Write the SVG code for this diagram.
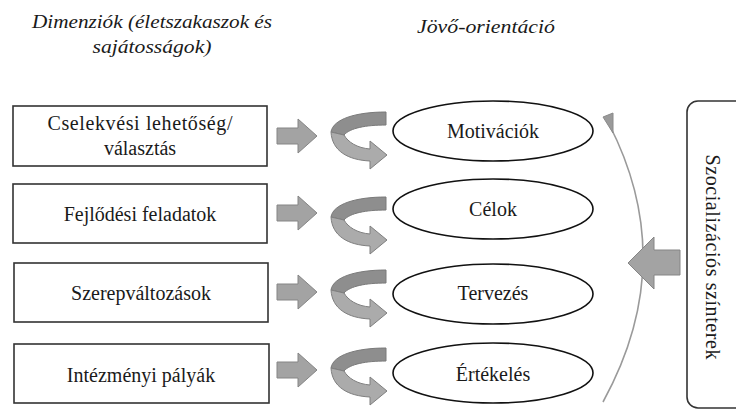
<svg xmlns="http://www.w3.org/2000/svg" width="736" height="410" viewBox="0 0 736 410">
<style>
.box{fill:#fff;stroke:#333;stroke-width:1.6}
.ell{fill:#fff;stroke:#111;stroke-width:1.6}
.t{font-family:"Liberation Serif","Times New Roman",serif;font-size:20px;fill:#1a1a1a;text-anchor:middle}
.h{font-family:"Liberation Serif","Times New Roman",serif;font-size:19px;font-style:italic;fill:#1a1a1a;text-anchor:middle}
.blk{fill:#a3a3a3;stroke:#858585;stroke-width:1}
.back{fill:#8e8e8e;stroke:#7a7a7a;stroke-width:1}
.front{fill:#ababab;stroke:#7f7f7f;stroke-width:1}
</style>
<defs>
<path id="blockArrow" d="M277,128 L298,128 L298,119 L317,136 L298,153 L298,144 L277,144 Z"/>
<g id="curvedArrow">
<path class="back" d="M386,112 L386,125 C366,125 350,128 344,135 L331,132 C333,119 356,112 386,112 Z"/>
<path class="front" d="M331,132 L344,135 C348,142 357,148 370,149 L370,141 L387,155 L370,169 L370,161 C348,160 332,151 331,132 Z"/>
</g>
</defs>
<g id="headers">
<text class="h" x="152" y="28" textLength="240" lengthAdjust="spacingAndGlyphs">Dimenziók (életszakaszok és</text>
<text class="h" x="152" y="53" textLength="119" lengthAdjust="spacingAndGlyphs">sajátosságok)</text>
<text class="h" x="486" y="33" textLength="138" lengthAdjust="spacingAndGlyphs">Jövő-orientáció</text>
</g>
<g id="connectors">
<use href="#blockArrow" class="blk"/>
<use href="#blockArrow" class="blk" transform="translate(0,77)"/>
<use href="#blockArrow" class="blk" transform="translate(0,156)"/>
<use href="#blockArrow" class="blk" transform="translate(0,234)"/>
<use href="#curvedArrow"/>
<use href="#curvedArrow" transform="translate(0,85)"/>
<use href="#curvedArrow" transform="translate(0,158)"/>
<use href="#curvedArrow" transform="translate(0,236)"/>
<path d="M603,402 Q680,262 609,124" fill="none" stroke="#9a9a9a" stroke-width="1.6"/>
<polygon points="603,117 613,113 613,133" fill="#9a9a9a" stroke="#8a8a8a" stroke-width="1"/>
<path class="blk" d="M680,250 L654,250 L654,237 L628,263 L654,289 L654,275 L680,275 Z"/>
</g>
<g id="box-cselekvesi">
<rect class="box" x="13" y="106" width="254" height="60"/>
<text class="t" x="140" y="130" textLength="185" lengthAdjust="spacing">Cselekvési lehetőség/</text>
<text class="t" x="140" y="155">választás</text>
</g>
<g id="box-fejlodesi">
<rect class="box" x="13" y="184" width="254" height="59"/>
<text class="t" x="140" y="221">Fejlődési feladatok</text>
</g>
<g id="box-szerep">
<rect class="box" x="14" y="263" width="254" height="59"/>
<text class="t" x="141" y="300">Szerepváltozások</text>
</g>
<g id="box-intezmenyi">
<rect class="box" x="14" y="344" width="255" height="59"/>
<text class="t" x="141" y="382">Intézményi pályák</text>
</g>
<g id="ell-motivaciok">
<ellipse class="ell" cx="493" cy="131" rx="100" ry="30"/>
<text class="t" x="493" y="138">Motivációk</text>
</g>
<g id="ell-celok">
<ellipse class="ell" cx="493" cy="209" rx="100" ry="30"/>
<text class="t" x="493" y="216">Célok</text>
</g>
<g id="ell-tervezes">
<ellipse class="ell" cx="493" cy="294" rx="100" ry="30"/>
<text class="t" x="493" y="300">Tervezés</text>
</g>
<g id="ell-ertekeles">
<ellipse class="ell" cx="493" cy="373" rx="100" ry="30"/>
<text class="t" x="493" y="381">Értékelés</text>
</g>
<g id="box-szocializacios">
<rect x="687" y="101" width="80" height="307" rx="11" ry="11" fill="#fff" stroke="#333" stroke-width="1.6"/>
<text class="t" transform="translate(706,257) rotate(90)" x="0" y="0" textLength="205" lengthAdjust="spacing">Szocializációs színterek</text>
</g>
</svg>
